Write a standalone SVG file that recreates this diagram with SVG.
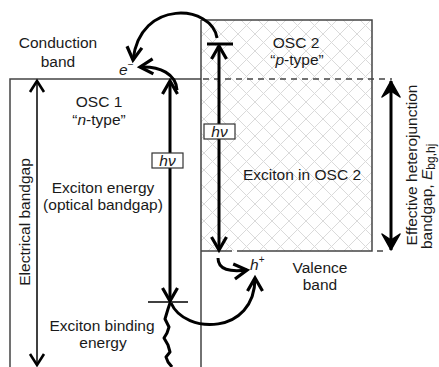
<svg xmlns="http://www.w3.org/2000/svg" width="439" height="367" viewBox="0 0 439 367">
<style>
.t{font-family:"Liberation Sans",Arial,sans-serif;font-size:15.5px;fill:#1a1a1a}
.c{text-anchor:middle}
.box{stroke:#444;stroke-width:1.5;fill:none}
.dash{stroke:#444;stroke-width:1.5;stroke-dasharray:6 5;fill:none}
.thick{stroke:#000;stroke-width:3;fill:none}
.thin{stroke:#000;stroke-width:1.5;fill:none}
.hv{fill:#fff;stroke:#333;stroke-width:1.2}
</style>
<defs>
<pattern id="hatch" width="17" height="17" patternUnits="userSpaceOnUse">
<path d="M0,0 L17,17 M17,0 L0,17" stroke="#dadada" stroke-width="1"/>
</pattern>
<marker id="chev" markerUnits="userSpaceOnUse" viewBox="-16 -10 18 20" markerWidth="18" markerHeight="20" refX="0" refY="0" orient="auto-start-reverse" overflow="visible">
<path d="M-13,-7.5 L0,0 L-13,7.5" fill="none" stroke="#000" stroke-width="3.2"/>
</marker>
<marker id="chevThin" markerUnits="userSpaceOnUse" viewBox="-14 -10 16 20" markerWidth="16" markerHeight="20" refX="0" refY="0" orient="auto-start-reverse" overflow="visible">
<path d="M-11,-7 L0,0 L-11,7" fill="none" stroke="#000" stroke-width="2.6"/>
</marker>
<marker id="dart" markerUnits="userSpaceOnUse" viewBox="-18 -10 20 20" markerWidth="20" markerHeight="20" refX="0" refY="0" orient="auto-start-reverse" overflow="visible">
<path d="M0,0 L-16,-9 L-10,0 L-16,9 Z" fill="#000" stroke="#000" stroke-width="1.5" stroke-linejoin="round"/>
</marker>
</defs>
<rect width="439" height="367" fill="#fff"/>

<g id="osc2">
<rect x="201" y="20" width="171" height="231" fill="url(#hatch)"/>
<path class="box" d="M201,20 L372,20 L372,251 L237,251 M232,251 L201,251"/>
<path class="box" d="M377,251 L383,251"/>
<text class="t c" x="296" y="48">OSC 2</text>
<text class="t c" x="297" y="65">“<tspan font-style="italic">p</tspan>-type”</text>
<text class="t c" x="302" y="180">Exciton in OSC 2</text>
</g>

<g id="osc1">
<path class="box" d="M10,367 L10,79 L201,79 M201,20 L201,367"/>
<path class="dash" d="M203,79 L392,79"/>
<text class="t c" x="99" y="107">OSC 1</text>
<text class="t c" x="99" y="125">“<tspan font-style="italic">n</tspan>-type”</text>
<text class="t c" x="103" y="193">Exciton energy</text>
<text class="t c" x="103" y="210">(optical bandgap)</text>
<text class="t c" x="102" y="331">Exciton binding</text>
<text class="t c" x="103" y="348">energy</text>
</g>

<g id="labels">
<text class="t c" x="58" y="48">Conduction</text>
<text class="t c" x="58" y="67">band</text>
<text class="t" x="119" y="75"><tspan font-style="italic">e</tspan><tspan font-size="10" dy="-7">−</tspan></text>
<text class="t" x="250" y="270"><tspan font-style="italic">h</tspan><tspan font-size="10" dy="-7">+</tspan></text>
<text class="t c" x="320" y="273">Valence</text>
<text class="t c" x="320" y="290">band</text>
<text class="t c" transform="translate(30,222) rotate(-90)">Electrical bandgap</text>
<text class="t c" transform="translate(417,165) rotate(-90)">Effective heterojunction</text>
<text class="t" transform="translate(432,249) rotate(-90)">bandgap, <tspan font-style="italic">E</tspan><tspan font-size="12" dy="3">bg,hj</tspan></text>
</g>

<g id="connectors">
<line class="thin" x1="37" y1="81" x2="37" y2="365" marker-start="url(#chevThin)" marker-end="url(#chevThin)"/>
<line class="thick" x1="170" y1="81" x2="170" y2="301" marker-start="url(#chev)" marker-end="url(#chev)"/>
<line class="thin" x1="148" y1="302" x2="188" y2="302"/>
<line class="thick" x1="219" y1="46" x2="219" y2="250" marker-start="url(#chev)" marker-end="url(#chev)"/>
<line class="thick" x1="207" y1="44" x2="233" y2="44"/>
<line class="thick" x1="391" y1="81" x2="391" y2="250" stroke-width="3.5" marker-start="url(#dart)" marker-end="url(#dart)"/>
<path class="thick" d="M177,90 C176,74 160,66 140,67" marker-end="url(#chev)"/>
<path class="thick" d="M217,38 C212,5 140,-2 133,60" marker-end="url(#chev)"/>
<path class="thick" d="M218,258 C218,270 230,272 247,270" marker-end="url(#chev)"/>
<path class="thick" d="M171,303 C185,335 255,335 255,278" marker-end="url(#chev)"/>
<path class="thick" stroke-width="3.5" stroke-linejoin="round" d="M170,303 L168,309 L165,319 L169,327 L167,333 L164,338 L168,345 L170,352 L166,357 L168,362 L172,367"/>
</g>

<g id="hv1">
<rect class="hv" x="152" y="153" width="31" height="15"/>
<text class="t c" x="167.5" y="165.5" font-size="14" font-style="italic">hν</text>
</g>
<g id="hv2">
<rect class="hv" x="204" y="124" width="31" height="15"/>
<text class="t c" x="219.5" y="136.5" font-size="14" font-style="italic">hν</text>
</g>
</svg>
